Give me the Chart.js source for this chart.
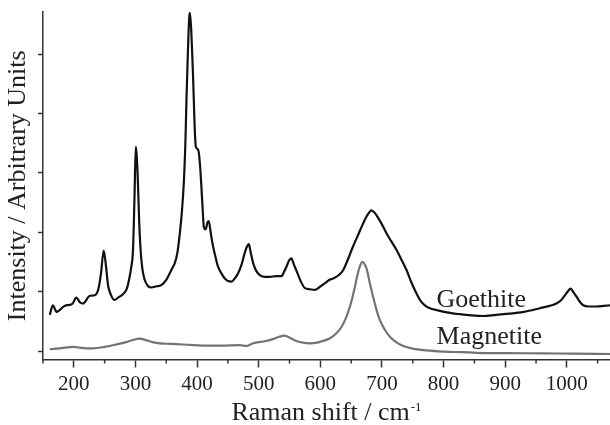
<!DOCTYPE html>
<html>
<head>
<meta charset="utf-8">
<script src="https://cdn.jsdelivr.net/npm/chart.js@4.4.0/dist/chart.umd.min.js"></script>
<style>
  html, body { margin: 0; padding: 0; background: #ffffff; }
  #wrap { width: 610px; height: 425px; }
</style>
</head>
<body>
<div id="wrap"><canvas id="c" width="610" height="425"></canvas></div>
<script>
// Goethite spectrum (Raman shift, intensity in arbitrary units)
const goethiteX = [161,166,172,185,198,204,210,215,226,234,240,244,248.5,252,255.5,260,266,272,280,286,289.6,293,296,298.5,300.5,302,303.7,306,308,311,315,320,326,334,342,350,355.7,360,363.8,368,372,375,378.4,381,382.8,385,388,390,393.5,396,398,401,403,405,407,409,411,414,417,419,422,425,430,434,440,445,450,456,461,466.6,472,477,481,484,487,491,496,501.8,510,518,528,537,541,545,549,553,557,561,568,575,583,591,598,604.5,610,615,621,630,637,645,653,661,669.5,677,683,687,691,699,707.5,715,723.7,732,740,748,756,763,769.6,778,788.6,805,826,845,864,885,907.6,930,956,972,983,991,997,1002,1006,1010,1016,1021,1026.6,1035,1048,1060,1070];
const goethiteY = [0.61,0.77,0.66,0.76,0.80,0.90,0.82,0.80,0.93,0.94,1.05,1.30,1.69,1.45,1.11,0.95,0.86,0.90,0.96,1.05,1.20,1.40,1.70,2.60,3.44,3.30,2.93,2.20,1.76,1.40,1.20,1.10,1.07,1.09,1.11,1.20,1.31,1.40,1.48,1.65,1.98,2.30,2.82,3.50,4.23,5.00,5.70,5.50,4.62,3.80,3.44,3.40,3.33,3.10,2.77,2.40,2.09,2.05,2.17,2.19,2.00,1.81,1.58,1.42,1.30,1.22,1.18,1.17,1.22,1.31,1.45,1.64,1.76,1.80,1.66,1.48,1.35,1.28,1.25,1.25,1.26,1.26,1.33,1.42,1.52,1.56,1.46,1.36,1.18,1.06,1.04,1.03,1.07,1.12,1.16,1.20,1.22,1.28,1.36,1.55,1.76,1.95,2.15,2.30,2.37,2.34,2.29,2.15,1.98,1.85,1.70,1.53,1.36,1.15,0.97,0.84,0.77,0.72,0.69,0.65,0.62,0.60,0.59,0.61,0.63,0.66,0.72,0.76,0.80,0.86,0.94,1.01,1.05,1.00,0.91,0.83,0.77,0.75,0.75,0.76,0.77];

// Magnetite spectrum
const magnetiteX = [161,180,198.7,215,231,250,269,285,297,307,318,328,339.5,358,377,395,415,440,469,480,491,508,523,533,542,551,561,572,583,595,604.5,615,626,634,642.5,650,656,660,664,668.5,672,675,680,685.7,691,696.6,704,712.8,723,734.4,750,772.4,800,830,853.6,900,961.7,1010,1070];
const magnetiteY = [0.03,0.05,0.07,0.05,0.045,0.07,0.11,0.15,0.19,0.21,0.18,0.15,0.13,0.12,0.11,0.10,0.09,0.09,0.10,0.084,0.13,0.16,0.20,0.24,0.26,0.22,0.17,0.14,0.13,0.14,0.17,0.21,0.30,0.40,0.58,0.82,1.08,1.27,1.42,1.50,1.46,1.39,1.16,0.91,0.70,0.52,0.37,0.24,0.15,0.084,0.04,0.01,-0.01,-0.02,-0.03,-0.035,-0.04,-0.045,-0.05];

const seriesNames = ['Goethite', 'Magnetite'];
const xMajorTicks = [200,300,400,500,600,700,800,900,1000];
const xMinorTicks = [150,250,350,450,550,650,750,850,950,1050];
const yTicks = [0,1,2,3,4,5];
// label anchor points (data coordinates)
const labelX = [788.5, 788.5];
const labelY = [0.741, 0.118];
const xTitleMain = 'Raman shift / cm';
const xTitleSup = '-1';

const toPts = (xs, ys) => xs.map((x, i) => ({x: x, y: ys[i]}));

const FONT = "'Liberation Serif', 'Times New Roman', serif";
const INK = '#222222';
const AXIS = '#333333';

const minorTickPlugin = {
  id: 'minorTicks',
  afterDraw(chart) {
    const ctx = chart.ctx;
    const xs = chart.scales.x;
    const bottom = chart.chartArea.bottom;
    ctx.save();
    ctx.strokeStyle = AXIS;
    ctx.lineWidth = 1.5;
    xMinorTicks.forEach(v => {
      const px = xs.getPixelForValue(v);
      ctx.beginPath();
      ctx.moveTo(px, bottom);
      ctx.lineTo(px, bottom + 4);
      ctx.stroke();
    });
    ctx.restore();
  }
};

const xTitlePlugin = {
  id: 'xTitle',
  afterDraw(chart) {
    const ctx = chart.ctx;
    const area = chart.chartArea;
    ctx.save();
    ctx.fillStyle = INK;
    ctx.textBaseline = 'alphabetic';
    ctx.textAlign = 'left';
    ctx.font = "26px " + FONT;
    const wMain = ctx.measureText(xTitleMain).width;
    ctx.font = "13px " + FONT;
    const wSup = ctx.measureText(xTitleSup).width;
    const cx = (area.left + area.right) / 2;
    const x0 = cx - (wMain + wSup + 1) / 2;
    const base = chart.height - 5;
    ctx.font = "26px " + FONT;
    ctx.fillText(xTitleMain, x0, base);
    ctx.font = "13px " + FONT;
    ctx.fillText(xTitleSup, x0 + wMain + 1, base - 9.5);
    ctx.restore();
  }
};

const seriesLabelPlugin = {
  id: 'seriesLabels',
  afterDatasetsDraw(chart) {
    const ctx = chart.ctx;
    const xs = chart.scales.x, ys = chart.scales.y;
    ctx.save();
    ctx.fillStyle = INK;
    ctx.font = "26px " + FONT;
    ctx.textAlign = 'left';
    ctx.textBaseline = 'alphabetic';
    seriesNames.forEach((name, i) => {
      ctx.fillText(name, xs.getPixelForValue(labelX[i]), ys.getPixelForValue(labelY[i]));
    });
    ctx.restore();
  }
};

new Chart(document.getElementById('c'), {
  type: 'line',
  data: {
    datasets: [
      {
        label: seriesNames[0],
        data: toPts(goethiteX, goethiteY),
        borderColor: '#111111',
        borderWidth: 2.2,
        pointRadius: 0,
        cubicInterpolationMode: 'monotone',
        fill: false
      },
      {
        label: seriesNames[1],
        data: toPts(magnetiteX, magnetiteY),
        borderColor: '#737373',
        borderWidth: 2.2,
        pointRadius: 0,
        cubicInterpolationMode: 'monotone',
        fill: false
      }
    ]
  },
  options: {
    responsive: false,
    animation: false,
    devicePixelRatio: 1,
    layout: { padding: { top: 12, left: 0, right: 0, bottom: 0 } },
    plugins: {
      legend: { display: false },
      tooltip: { enabled: false }
    },
    scales: {
      x: {
        type: 'linear',
        min: 150,
        max: 1070,
        afterBuildTicks(scale) { scale.ticks = xMajorTicks.map(v => ({value: v})); },
        afterFit(scale) { scale.height = 65.5; },
        grid: {
          display: true,
          drawOnChartArea: false,
          drawTicks: true,
          tickLength: 8,
          tickColor: AXIS,
          tickWidth: 1.5
        },
        border: { display: true, color: AXIS, width: 1.5 },
        ticks: {
          color: INK,
          padding: 4,
          maxRotation: 0,
          autoSkip: false,
          font: { family: FONT, size: 21, lineHeight: 1.2 },
          callback: (v) => String(v)
        },
        title: { display: false }
      },
      y: {
        type: 'linear',
        min: -0.143,
        max: 5.71,
        afterBuildTicks(scale) { scale.ticks = yTicks.map(v => ({value: v})); },
        afterFit(scale) { scale.width = 43; },
        grid: {
          display: true,
          drawOnChartArea: false,
          drawTicks: true,
          tickLength: 5,
          tickColor: AXIS,
          tickWidth: 1.5
        },
        border: { display: true, color: AXIS, width: 1.5 },
        ticks: { display: false },
        title: {
          display: true,
          text: 'Intensity / Arbitrary Units',
          color: INK,
          font: { family: FONT, size: 26, lineHeight: 1 },
          padding: { top: 5, bottom: 0 }
        }
      }
    }
  },
  plugins: [minorTickPlugin, xTitlePlugin, seriesLabelPlugin]
});
</script>
</body>
</html>
